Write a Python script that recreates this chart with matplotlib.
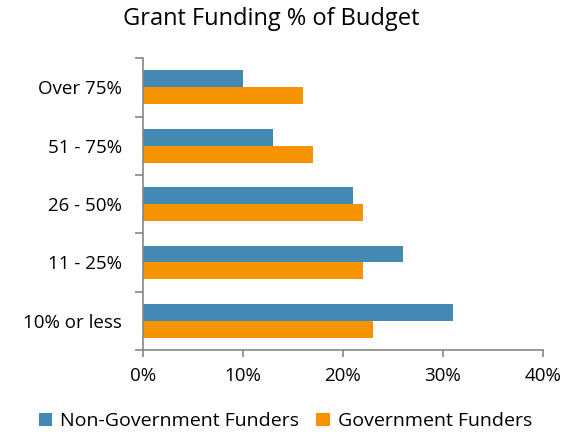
import numpy as np
import matplotlib
matplotlib.use('Agg')
import matplotlib.pyplot as plt
from matplotlib.ticker import FixedLocator, FuncFormatter

# Data (top to bottom as drawn)
categories = ['Over 75%', '51 - 75%', '26 - 50%', '11 - 25%', '10% or less']
non_gov = [10, 13, 21, 26, 31]
gov = [16, 17, 22, 22, 23]
series_names = ['Non-Government Funders', 'Government Funders']
x_ticks = [0, 10, 20, 30, 40]

plt.rcParams['font.family'] = ['Open Sans', 'DejaVu Sans']

fig = plt.figure(figsize=(5.65, 4.34), dpi=100)
ax = fig.add_axes([0.253, 0.1935, 0.708, 0.6725])

y = np.arange(len(categories))
h = 0.29
ax.barh(y - h / 2, non_gov, height=h, color='#4389b4', label=series_names[0])
ax.barh(y + h / 2, gov, height=h, color='#f59400', label=series_names[1])

ax.set_ylim(len(categories) - 0.5, -0.5)
ax.set_xlim(0, 40)

ax.set_yticks(y)
ax.set_yticklabels(categories, fontsize=13.5)
ax.tick_params(axis='y', which='major', length=0, pad=15)
ax.yaxis.set_minor_locator(FixedLocator(np.arange(-0.5, len(categories), 1)))
ax.tick_params(axis='y', which='minor', length=6, color='#868686', width=1.2)

ax.set_xticks(x_ticks)
ax.xaxis.set_major_formatter(FuncFormatter(lambda v, p: f'{v:.0f}%'))
ax.tick_params(axis='x', length=5, color='#868686', width=1.2, labelsize=13.5, pad=7)

for side in ['top', 'right']:
    ax.spines[side].set_visible(False)
for side in ['left', 'bottom']:
    ax.spines[side].set_color('#868686')
    ax.spines[side].set_linewidth(1.2)

fig.suptitle('Grant Funding % of Budget', fontsize=17, x=0.48, y=0.985)

fig.legend(loc='lower center', bbox_to_anchor=(0.505, -0.032), ncol=2, frameon=False,
           fontsize=14, handlelength=0.7, handleheight=0.7, handletextpad=0.4,
           columnspacing=0.9)

fig.savefig('out.png', dpi=100)
